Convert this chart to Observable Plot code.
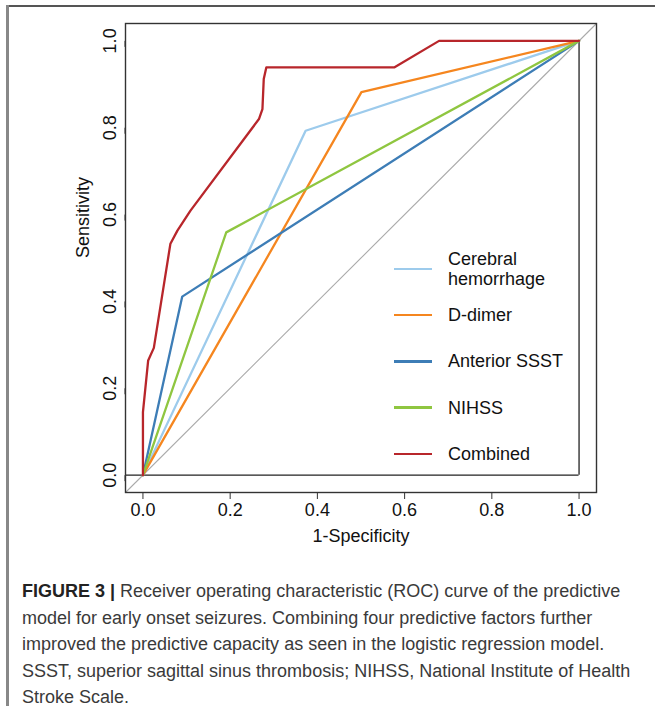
<!DOCTYPE html>
<html><head><meta charset="utf-8">
<script src="https://cdn.jsdelivr.net/npm/d3@7"></script>
<script src="https://cdn.jsdelivr.net/npm/@observablehq/plot@0.6"></script>
<style>
html,body{margin:0;padding:0;background:#fff}
body{width:655px;height:706px;overflow:hidden;position:relative;font-family:"Liberation Sans",Arial,sans-serif}
#frameTop{position:absolute;left:6px;top:5px;width:649px;height:2px;background:#555}
#frameLeft{position:absolute;left:6px;top:5px;width:2.5px;height:701px;background:#888}
#chart{position:absolute;left:0;top:0}
#legend{position:absolute;left:394px;top:246px;font-size:18px;color:#111}
.row{display:flex;align-items:center;height:46.2px}
.swatch{width:38px;height:2.4px;margin-right:16px}
.lab{line-height:20px}
#caption{position:absolute;left:22px;top:578px;font-size:18px;line-height:26.5px;color:#3a3a3a;white-space:nowrap}
#caption b{color:#222}
</style>
</head><body>
<div id="chart"></div>
<div id="frameTop"></div>
<div id="frameLeft"></div>
<div id="legend"></div>
<div id="caption"></div>
<script>
// ---- data ----
const series = ["Cerebral hemorrhage", "D-dimer", "Anterior SSST", "NIHSS", "Combined"];
const legendLabels = [["Cerebral", "hemorrhage"], ["D-dimer"], ["Anterior SSST"], ["NIHSS"], ["Combined"]];
const colors = ["#9dcbec", "#f5861f", "#3d7db6", "#8fc640", "#b8262b"];

const cerebralFpr = [0, 0.373, 1];
const cerebralTpr = [0, 0.793, 1];
const ddimerFpr = [0, 0.501, 1];
const ddimerTpr = [0, 0.882, 1];
const ssstFpr = [0, 0.090, 1];
const ssstTpr = [0, 0.411, 1];
const nihssFpr = [0, 0.191, 1];
const nihssTpr = [0, 0.559, 1];
const combinedFpr = [0, 0, 0.012, 0.025, 0.063, 0.079, 0.109, 0.266, 0.274, 0.277, 0.283, 0.577, 0.679, 1];
const combinedTpr = [0, 0.145, 0.264, 0.293, 0.533, 0.563, 0.609, 0.820, 0.843, 0.912, 0.939, 0.939, 1, 1];

const xTicks = [0, 0.2, 0.4, 0.6, 0.8, 1.0];
const yTicks = [0, 0.2, 0.4, 0.6, 0.8, 1.0];
const xLabel = "1-Specificity";
const yLabel = "Sensitivity";
const axisDomain = [-0.04, 1.04];
const chanceLine = [-0.04, 1.04];

const captionBold = "FIGURE 3 |";
const captionLines = [
  " Receiver operating characteristic (ROC) curve of the predictive",
  "model for early onset seizures. Combining four predictive factors further",
  "improved the predictive capacity as seen in the logistic regression model.",
  "SSST, superior sagittal sinus thrombosis; NIHSS, National Institute of Health",
  "Stroke Scale."
];

// ---- build table ----
const curves = [
  [cerebralFpr, cerebralTpr],
  [ddimerFpr, ddimerTpr],
  [ssstFpr, ssstTpr],
  [nihssFpr, nihssTpr],
  [combinedFpr, combinedTpr]
];
const rows = [];
curves.forEach(([f, t], i) => f.forEach((v, j) => rows.push({series: series[i], fpr: v, tpr: t[j]})));

const plot = Plot.plot({
  width: 655,
  height: 560,
  marginLeft: 125,
  marginRight: 59,
  marginTop: 23,
  marginBottom: 68,
  style: {fontFamily: "Liberation Sans, Arial, sans-serif", fontSize: "18px", color: "#111", background: "transparent"},
  x: {domain: axisDomain},
  y: {domain: axisDomain},
  color: {domain: series, range: colors},
  marks: [
    Plot.link([chanceLine], {x1: d => d[0], y1: d => d[0], x2: d => d[1], y2: d => d[1], stroke: "#aaa", strokeWidth: 1.1}),
    Plot.ruleY([0], {x1: axisDomain[0], x2: 1, stroke: "#222", strokeWidth: 1.3}),
    Plot.ruleX([1], {y1: 0, y2: 1, stroke: "#222", strokeWidth: 1.3}),
    Plot.line(rows, {x: "fpr", y: "tpr", z: "series", stroke: "series", strokeWidth: 2.3, strokeLinejoin: "round"}),
    Plot.frame({stroke: "#333", strokeWidth: 1.4}),
    Plot.axisX({ticks: xTicks, tickFormat: d3.format(".1f"), tickSize: 7, tickPadding: 4, fontSize: 18, label: null, stroke: "#333"}),
    Plot.axisY({ticks: yTicks, tickFormat: d3.format(".1f"), tickSize: 6, tickPadding: 9.5, fontSize: 18, rotate: -90, textAnchor: "middle", label: null, stroke: "#333"}),
    Plot.text([xLabel], {text: d => d, frameAnchor: "bottom", dy: 49, fontSize: 18, fill: "#111"}),
    Plot.text([yLabel], {text: d => d, frameAnchor: "left", dx: -42, rotate: -90, fontSize: 18, fill: "#111"})
  ]
});
document.getElementById("chart").appendChild(plot);

// ---- legend ----
const leg = document.getElementById("legend");
series.forEach((s, i) => {
  const r = document.createElement("div");
  r.className = "row";
  const sw = document.createElement("div");
  sw.className = "swatch";
  sw.style.background = colors[i];
  const lb = document.createElement("div");
  lb.className = "lab";
  lb.innerHTML = legendLabels[i].join("<br>");
  r.appendChild(sw); r.appendChild(lb);
  leg.appendChild(r);
});

// ---- caption ----
const cap = document.getElementById("caption");
const b = document.createElement("b");
b.textContent = captionBold;
cap.appendChild(b);
captionLines.forEach((l, i) => {
  if (i > 0) cap.appendChild(document.createElement("br"));
  cap.appendChild(document.createTextNode(l));
});
</script>
</body></html>
